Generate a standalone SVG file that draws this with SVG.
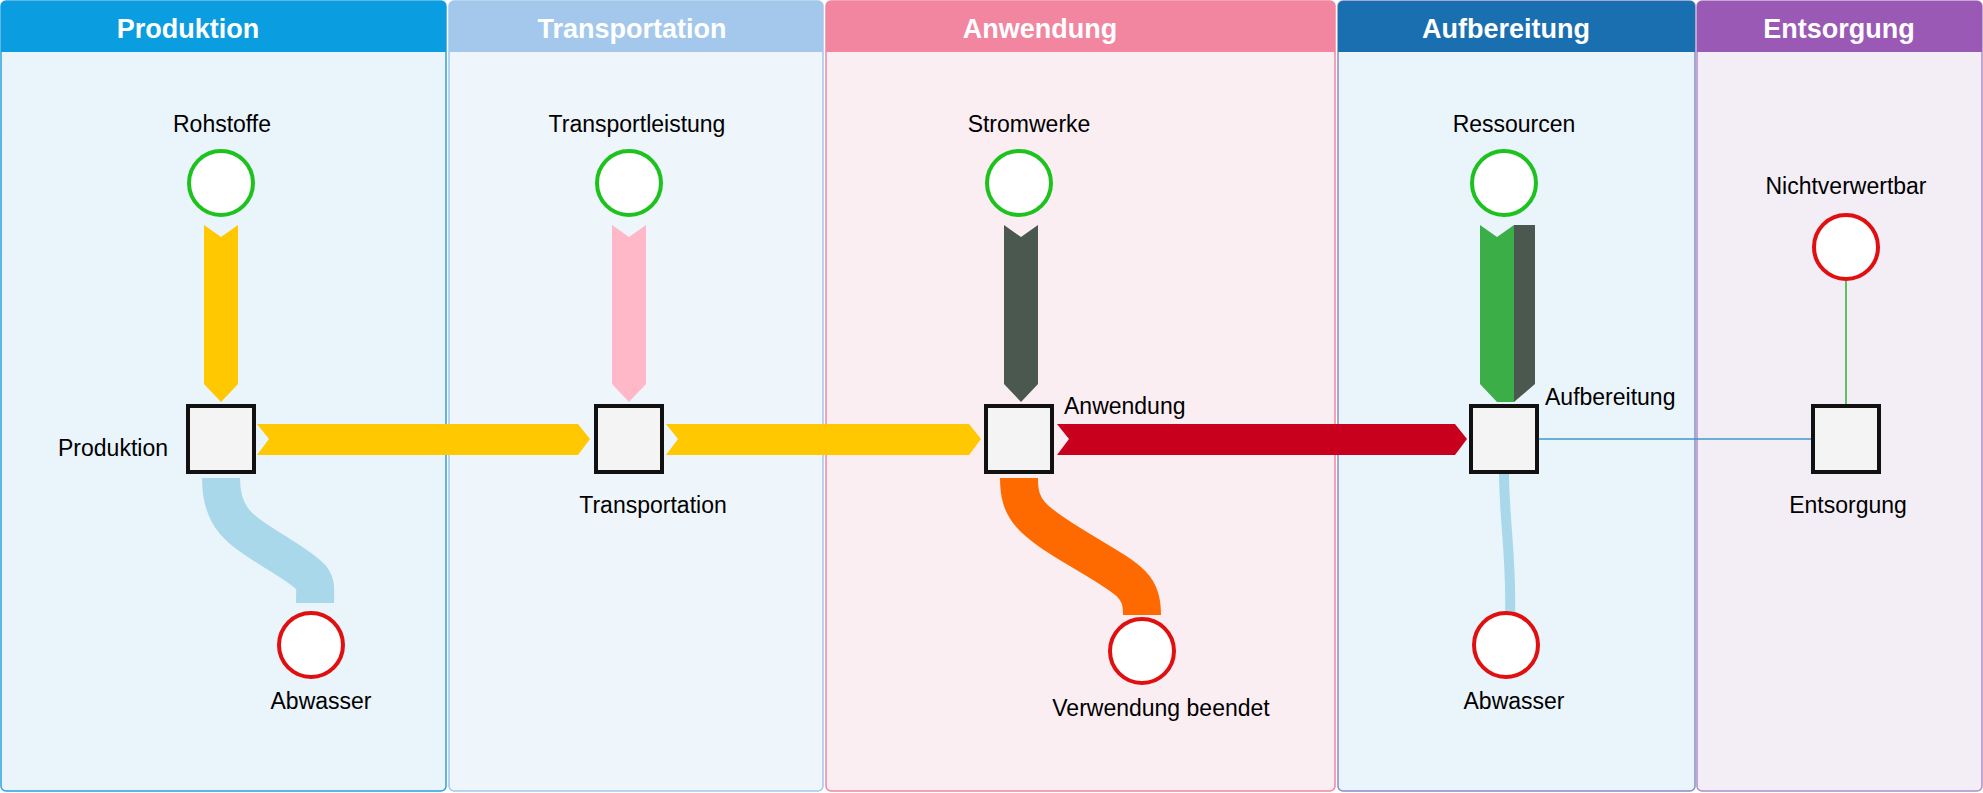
<svg xmlns="http://www.w3.org/2000/svg" width="1983" height="793" viewBox="0 0 1983 793">
<style>
.h{font-family:"Liberation Sans",Arial,sans-serif;font-weight:bold;font-size:27px;fill:#fff;text-anchor:middle}
.t{font-family:"Liberation Sans",Arial,sans-serif;font-size:23px;fill:#000;text-anchor:middle}
.sq{fill:#f4f4f4;stroke:#111;stroke-width:4}
.g{fill:#fff;stroke:#1ec21e;stroke-width:4}
.r{fill:#fff;stroke:#e01010;stroke-width:4}
</style>
<rect width="1983" height="793" fill="#fff"/>
<g id="lanes">
<rect x="1" y="1" width="445" height="790" rx="5" fill="#eaf4fb" stroke="#2aa0e0" stroke-width="1.5"/>
<path d="M1 52V6a5 5 0 0 1 5-5h435a5 5 0 0 1 5 5v46z" fill="#0a9ee0"/>
<text class="h" x="188" y="38">Produktion</text>
<rect x="449" y="1" width="374" height="790" rx="5" fill="#eef5fb" stroke="#a3c8ec" stroke-width="1.5"/>
<path d="M449 52V6a5 5 0 0 1 5-5h364a5 5 0 0 1 5 5v46z" fill="#a3c8ec"/>
<text class="h" x="632" y="38">Transportation</text>
<rect x="826" y="1" width="509" height="790" rx="5" fill="#fbeef3" stroke="#f285a0" stroke-width="1.5"/>
<path d="M826 52V6a5 5 0 0 1 5-5h499a5 5 0 0 1 5 5v46z" fill="#f285a0"/>
<text class="h" x="1040" y="38">Anwendung</text>
<rect x="1338" y="1" width="357" height="790" rx="5" fill="#eaf4fb" stroke="#8a8ac8" stroke-width="1.5"/>
<path d="M1338 52V6a5 5 0 0 1 5-5h347a5 5 0 0 1 5 5v46z" fill="#1a6fb0"/>
<text class="h" x="1506" y="38">Aufbereitung</text>
<rect x="1697" y="1" width="285" height="790" rx="5" fill="#f3eef6" stroke="#b08cc8" stroke-width="1.5"/>
<path d="M1697 52V6a5 5 0 0 1 5-5h275a5 5 0 0 1 5 5v46z" fill="#9b59b6"/>
<text class="h" x="1839" y="38">Entsorgung</text>
</g>
<g id="connectors">
<path d="M204 225L221 237L238 225V384L221 402L204 384Z" fill="#ffc800"/>
<path d="M612 225L629 237L646 225V384L629 402L612 384Z" fill="#ffb8c8"/>
<path d="M1004 225L1021 237L1038 225V384L1021 402L1004 384Z" fill="#4a5850"/>
<path d="M1480 225L1497 237L1514 225V402L1497 402L1480 384Z" fill="#3cae48"/>
<path d="M1514 225H1535V384L1514 402Z" fill="#4a5850"/>
<path d="M257 424H578L590 439L578 455H257L269 439Z" fill="#ffc800"/>
<path d="M666 424H969L981 439L969 455H666L678 439Z" fill="#ffc800"/>
<path d="M1057 424H1455L1467 439L1455 455H1057L1069 439Z" fill="#c8001e"/>
<path d="M221 478C221 520 240 530 280 555S315 580 315 603" fill="none" stroke="#a8d8ea" stroke-width="38"/>
<path d="M1019 478C1019 510 1030 520 1080 550S1142 585 1142 615" fill="none" stroke="#ff6a00" stroke-width="38"/>
<path d="M1504 472C1504 520 1512 560 1510 618" fill="none" stroke="#a8d8ea" stroke-width="10"/>
<line x1="1537" y1="439" x2="1813" y2="439" stroke="#3a9ac8" stroke-width="1.5"/>
<line x1="1846" y1="281" x2="1846" y2="406" stroke="#2ab02a" stroke-width="1.5"/>
</g>
<g id="n-rohstoffe"><circle class="g" cx="221" cy="183" r="32"/><text class="t" x="222" y="132">Rohstoffe</text></g>
<g id="n-transportleistung"><circle class="g" cx="629" cy="183" r="32"/><text class="t" x="637" y="132">Transportleistung</text></g>
<g id="n-stromwerke"><circle class="g" cx="1019" cy="183" r="32"/><text class="t" x="1029" y="132">Stromwerke</text></g>
<g id="n-ressourcen"><circle class="g" cx="1504" cy="183" r="32"/><text class="t" x="1514" y="132">Ressourcen</text></g>
<g id="n-nichtverwertbar"><circle class="r" cx="1846" cy="247" r="32"/><text class="t" x="1846" y="194">Nichtverwertbar</text></g>
<g id="n-abwasser1"><circle class="r" cx="311" cy="645" r="32"/><text class="t" x="321" y="709">Abwasser</text></g>
<g id="n-verwendung"><circle class="r" cx="1142" cy="651" r="32"/><text class="t" x="1161" y="716">Verwendung beendet</text></g>
<g id="n-abwasser2"><circle class="r" cx="1506" cy="645" r="32"/><text class="t" x="1514" y="709">Abwasser</text></g>
<g id="n-produktion"><rect class="sq" x="188" y="406" width="66" height="66"/><text class="t" x="168" y="456" style="text-anchor:end">Produktion</text></g>
<g id="n-transportation"><rect class="sq" x="596" y="406" width="66" height="66"/><text class="t" x="653" y="513">Transportation</text></g>
<g id="n-anwendung"><rect class="sq" x="986" y="406" width="66" height="66"/><text class="t" x="1064" y="414" style="text-anchor:start">Anwendung</text></g>
<g id="n-aufbereitung"><rect class="sq" x="1471" y="406" width="66" height="66"/><text class="t" x="1545" y="405" style="text-anchor:start">Aufbereitung</text></g>
<g id="n-entsorgung"><rect class="sq" x="1813" y="406" width="66" height="66"/><text class="t" x="1848" y="513">Entsorgung</text></g>
</svg>
